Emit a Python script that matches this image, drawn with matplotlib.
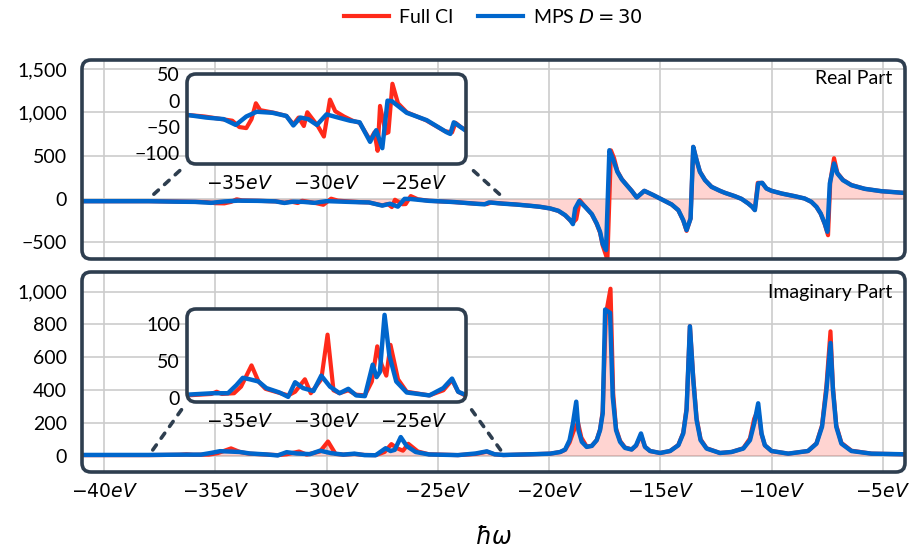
import numpy as np
import matplotlib
matplotlib.use("Agg")
import matplotlib.pyplot as plt
from matplotlib.patches import FancyBboxPatch, ConnectionPatch
from matplotlib.ticker import FuncFormatter
from matplotlib.lines import Line2D

plt.rcParams["font.family"] = ["Lato", "DejaVu Sans"]
plt.rcParams["axes.unicode_minus"] = True

RED = "#ff2a1a"
BLUE = "#0066cc"
FRAME = "#2e3e4f"
GRID = "#cccccc"

# ---- Real part ----
re_fci_w = [-41.0, -40.0, -39.0, -38.0, -37.0, -36.0, -35.4, -35.0, -34.6, -34.3, -34.05, -33.8,
            -33.0, -32.3, -31.9, -31.6, -31.3, -31.1, -30.8, -30.5, -30.15, -29.8, -29.5, -29.0,
            -28.5, -28.1, -27.5, -27.25, -27.07, -26.93, -26.6, -26.45, -26.22, -25.9, -25.4,
            -24.3, -23.2, -22.8, -22.6, -22.3, -22.0, -21.5, -20.85, -20.4, -19.95, -19.58,
            -19.28, -19.05, -18.93, -18.78, -18.62, -18.38, -18.08, -17.86, -17.71, -17.59,
            -17.38, -17.22, -17.08, -16.93, -16.73, -16.51, -16.29, -16.06, -15.72, -15.31,
            -14.87, -14.49, -14.19, -13.97, -13.82, -13.64, -13.52, -13.37, -13.22, -12.99,
            -12.7, -12.32, -12.1, -11.65, -11.35, -11.05, -10.87, -10.75, -10.62, -10.42,
            -10.23, -10.0, -9.55, -8.96, -8.51, -8.21, -7.98, -7.79, -7.61, -7.46, -7.36,
            -7.19, -7.04, -6.79, -6.41, -5.81, -5.07, -4.0]
re_fci = [-27, -27, -27, -27, -30, -35, -38, -50, -52, -35, -5, -18,
          -23, -29, -45, -32, -48, -22, -35, -48, -68, 2, -20, -30,
          -38, -42, -75, -60, -95, -10, -62, -60, 32, -5, -22,
          -37, -58, -60, -42, -50, -56, -65, -80, -92, -111, -140,
          -190, -250, -275, -235, -15, -92, -178, -290, -390, -540,
          -700, 560, 470, 320, 228, 160, 95, 16, 93, 43,
          -15, -65, -132, -250, -370, -227, 600, 450, 315, 218,
          140, 93, 70, 31, 0, -53, -92, -128, 185, 185,
          120, 93, 62, 31, 4, -35, -94, -172, -290, -420, 200,
          470, 300, 220, 160, 116, 89, 68]

re_mps_w = [-41.0, -40.0, -39.0, -38.0, -36.9, -35.9, -35.2, -34.6, -34.0, -33.1, -32.3, -31.9,
            -31.5, -31.05, -30.55, -30.0, -29.45, -28.65, -28.1, -27.5, -27.15, -26.8, -26.5,
            -26.25, -25.4, -24.25, -23.1, -22.9, -22.7, -22.05, -21.5, -20.85, -20.4, -19.95,
            -19.58, -19.28, -19.05, -18.93, -18.83, -18.65, -18.38, -18.08, -17.86, -17.71,
            -17.59, -17.44, -17.29, -17.11, -16.93, -16.73, -16.51, -16.29, -16.06, -15.72,
            -15.31, -14.87, -14.49, -14.19, -13.97, -13.82, -13.64, -13.52, -13.37, -13.22,
            -12.99, -12.7, -12.32, -12.1, -11.65, -11.35, -11.05, -10.87, -10.75, -10.6,
            -10.42, -10.23, -10.0, -9.55, -8.96, -8.51, -8.21, -7.98, -7.79, -7.61, -7.49,
            -7.38, -7.19, -7.04, -6.79, -6.41, -5.81, -5.07, -4.0]
re_mps = [-27, -27, -27, -27, -32, -35, -46, -30, -21, -23, -29, -47,
          -32, -35, -46, -26, -31, -38, -41, -78, -56, -90, 0,
          -1, -23, -37, -60, -63, -41, -56, -65, -80, -92, -111,
          -138, -188, -246, -292, -111, -26, -92, -176, -284, -380,
          -523, -592, 562, 447, 312, 224, 158, 93, 16, 93,
          43, -15, -65, -130, -246, -361, -227, 601, 447, 312,
          216, 139, 93, 70, 31, 0, -53, -92, -130, 178,
          185, 120, 93, 62, 31, 4, -34, -92, -169, -284, -380,
          178, 409, 293, 216, 158, 116, 89, 68]

# ---- Imaginary part ----
im_fci_w = [-41.0, -38.0, -36.6, -36.3, -36.0, -35.3, -34.9, -34.3, -33.9, -33.5, -32.2, -31.8,
            -31.24, -30.9, -30.3, -29.94, -29.6, -29.25, -28.75, -28.3, -27.8, -27.4, -27.09,
            -26.84, -26.57, -26.33, -25.9, -25.4, -24.1, -23.3, -22.8, -22.45, -22.05, -20.85,
            -19.95, -19.5, -19.28, -19.08, -18.9, -18.7, -18.55, -18.31, -18.08, -17.86, -17.71,
            -17.59, -17.45, -17.24, -17.12, -16.99, -16.81, -16.59, -16.29, -16.09, -15.87,
            -15.69, -15.46, -15.01, -14.56, -14.19, -13.97, -13.82, -13.67, -13.52, -13.37,
            -13.19, -12.92, -12.32, -11.8, -11.27, -10.97, -10.78, -10.6, -10.45, -10.3, -10.0,
            -9.25, -8.36, -7.98, -7.73, -7.53, -7.35, -7.24, -7.09, -6.86, -6.41, -5.51, -4.0]
im_fci = [3, 3, 5, 8, 5, 6, 15, 44, 22, 12, 3, 8,
          25, 6, 25, 86, 10, 6, 10, 4, 3, 22, 70,
          45, 30, 72, 25, 8, 3, 10, 24, 8, 3, 8,
          12, 22, 35, 80, 150, 200, 110, 55, 60, 95, 160,
          270, 860, 1018, 380, 165, 90, 50, 38, 60, 125,
          55, 28, 16, 28, 65, 140, 290, 790, 480, 230,
          100, 45, 16, 22, 45, 105, 225, 280, 130, 63, 28,
          12, 28, 75, 185, 430, 758, 420, 185, 78, 30, 12, 8]

im_mps_w = [-41.0, -38.0, -36.5, -35.65, -35.17, -34.8, -34.4, -33.9, -33.45, -32.7, -32.2, -31.8,
            -31.35, -30.75, -30.3, -29.8, -29.25, -28.75, -28.3, -27.8, -27.35, -27.13, -26.94,
            -26.67, -26.4, -26.0, -25.4, -24.1, -23.3, -22.8, -22.45, -22.05, -20.85, -19.95,
            -19.5, -19.28, -19.08, -18.93, -18.78, -18.68, -18.53, -18.31, -18.08, -17.86,
            -17.71, -17.59, -17.48, -17.26, -17.14, -16.99, -16.81, -16.59, -16.29, -16.09,
            -15.87, -15.69, -15.46, -15.01, -14.56, -14.19, -13.97, -13.82, -13.67, -13.52,
            -13.37, -13.19, -12.92, -12.32, -11.8, -11.27, -10.97, -10.78, -10.6, -10.45, -10.3,
            -10.0, -9.25, -8.36, -7.98, -7.73, -7.53, -7.35, -7.24, -7.09, -6.86, -6.41, -5.51,
            -4.0]
im_mps = [4, 4, 6, 6, 17, 27, 25, 22, 13, 7, 1, 21,
          13, 9, 30, 15, 6, 12, 3, 2, 45, 28, 35,
          113, 58, 22, 7, 3, 13, 26, 8, 4, 8, 12,
          22, 37, 94, 196, 329, 155, 84, 53, 59, 94,
          155, 257, 891, 871, 360, 155, 84, 47, 37, 63,
          135, 53, 28, 16, 28, 63, 135, 278, 789, 462,
          217, 94, 43, 16, 22, 43, 94, 196, 319, 135, 63,
          28, 12, 28, 73, 176, 401, 687, 401, 176, 73, 28, 12,
          8]

x_ticks = [-40, -35, -30, -25, -20, -15, -10, -5]
inset_x_ticks = [-35, -30, -25]
re_ticks = [-500, 0, 500, 1000, 1500]
im_ticks = [0, 200, 400, 600, 800, 1000]
re_inset_ticks = [-100, -50, 0, 50]
im_inset_ticks = [0, 50, 100]

W, H = 914, 553
fig = plt.figure(figsize=(W / 100, H / 100), dpi=100)


def px_rect(left, top, right, bottom):
    return [left / W, 1 - bottom / H, (right - left) / W, (bottom - top) / H]


def round_frame(ax, radius=9, lw=2.6):
    bb = ax.get_position()
    w_px, h_px = bb.width * W, bb.height * H
    style = f"round,pad=0,rounding_size={radius / w_px}"
    ax.patch.set_visible(False)
    bg = FancyBboxPatch((0, 0), 1, 1, boxstyle=style, mutation_aspect=w_px / h_px,
                        transform=ax.transAxes, facecolor="white", edgecolor="none",
                        clip_on=False, zorder=-5)
    edge = FancyBboxPatch((0, 0), 1, 1, boxstyle=style, mutation_aspect=w_px / h_px,
                          transform=ax.transAxes, fill=False, edgecolor=FRAME, lw=lw,
                          clip_on=False, zorder=10)
    ax.add_patch(bg)
    ax.add_patch(edge)
    for s in ax.spines.values():
        s.set_visible(False)


yfmt = FuncFormatter(lambda v, p: f"{v:,.0f}".replace("-", "\u2212"))
xfmt = FuncFormatter(lambda v, p: f"${v:.0f}eV$")

ax_re = fig.add_axes(px_rect(82, 60, 905, 259))
ax_im = fig.add_axes(px_rect(82, 272, 905, 472))
ins_re = fig.add_axes(px_rect(187, 74, 466, 164))
ins_im = fig.add_axes(px_rect(187, 309, 466, 402))

panels = [
    (ax_re, ins_re, re_fci_w, re_fci, re_mps_w, re_mps, (-695, 1605), re_ticks,
     (-120, 50.5), re_inset_ticks, "Real Part", 0.95),
    (ax_im, ins_im, im_fci_w, im_fci, im_mps_w, im_mps, (-100, 1120), im_ticks,
     (-6, 121), im_inset_ticks, "Imaginary Part", 0.94),
]

for ax, ins, fw, fv, mw, mv, ylim, yt, ins_ylim, ins_yt, title, ty in panels:
    ax.fill_between(fw, fv, 0, color=RED, alpha=0.2, lw=0, zorder=1)
    ax.plot(fw, fv, color=RED, lw=3.0, zorder=2)
    ax.plot(mw, mv, color=BLUE, lw=3.2, zorder=3)
    ax.set_xlim(-41, -4)
    ax.set_ylim(*ylim)
    ax.set_xticks(x_ticks)
    ax.set_yticks(yt)
    ax.yaxis.set_major_formatter(yfmt)
    ax.grid(True, color=GRID, lw=1.2)
    ax.set_axisbelow(True)
    ax.tick_params(length=0, labelsize=14, pad=11)
    ax.tick_params(axis="x", labelsize=13.5, pad=7)
    ax.text(0.985, ty, title, transform=ax.transAxes, ha="right", va="top", fontsize=14)
    round_frame(ax)

    ins.plot(fw, fv, color=RED, lw=3.0)
    ins.plot(mw, mv, color=BLUE, lw=3.2)
    ins.set_xlim(-38, -22)
    ins.set_ylim(*ins_ylim)
    ins.set_xticks(inset_x_ticks)
    ins.set_yticks(ins_yt)
    ins.xaxis.set_major_formatter(xfmt)
    ins.yaxis.set_major_formatter(yfmt)
    ins.tick_params(length=0, labelsize=14, pad=5)
    ins.tick_params(axis="x", labelsize=13.5, pad=7)
    round_frame(ins)

    # dashed connectors from the zoomed region to the inset corners
    for xa, xb in [(ins.get_xlim()[0], 0), (ins.get_xlim()[1], 1)]:
        con = ConnectionPatch(xyA=(xa, 0), coordsA=ax.transData,
                              xyB=(xb, 0), coordsB=ins.transAxes,
                              color=FRAME, lw=2.6, ls=(0, (1.7, 2.3)),
                              shrinkA=5, shrinkB=2, zorder=8)
        fig.add_artist(con)

ax_re.set_xticklabels([])
ax_im.xaxis.set_major_formatter(xfmt)
ax_im.set_xlabel(r"$\hbar\omega$", fontsize=17, labelpad=18)

handles = [Line2D([], [], color=RED, lw=3), Line2D([], [], color=BLUE, lw=3)]
fig.legend(handles, ["Full CI", r"MPS $D = 30$"], loc="center",
           bbox_to_anchor=(493.5 / W, 1 - 17 / H), ncol=2, frameon=False,
           fontsize=14, handlelength=2.3, columnspacing=1.3, handletextpad=0.5)

fig.savefig("out.png", dpi=100)
